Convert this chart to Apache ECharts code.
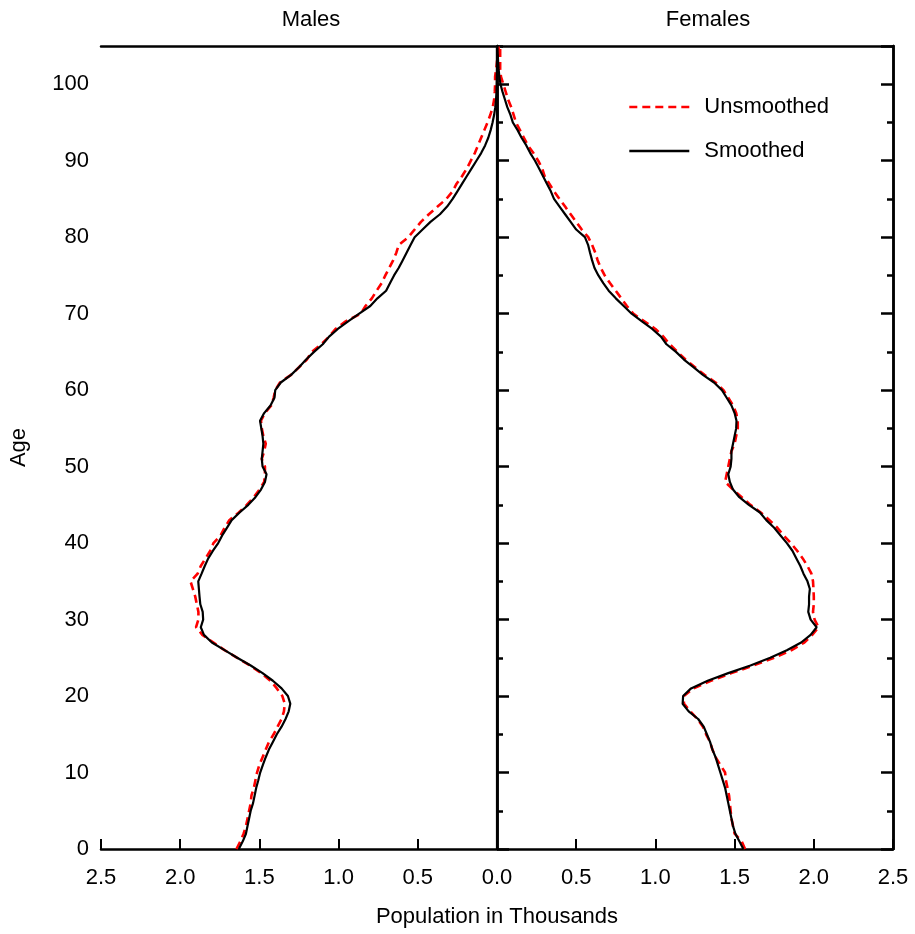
<!DOCTYPE html>
<html>
<head>
<meta charset="utf-8">
<script src="https://cdn.jsdelivr.net/npm/echarts@6/dist/echarts.min.js"></script>
<style>
html,body{margin:0;padding:0;background:#fff;}
#chart{width:915px;height:934px;}
</style>
</head>
<body>
<div id="chart"></div>
<script>
const ages = [0,1,2,3,4,5,6,7,8,9,10,11,12,13,14,15,16,17,18,19,20,21,22,23,24,25,26,27,28,29,
30,31,32,33,34,35,36,37,38,39,40,41,42,43,44,45,46,47,48,49,50,51,52,53,54,55,56,57,58,59,
60,61,62,63,64,65,66,67,68,69,70,71,72,73,74,75,76,77,78,79,80,81,82,83,84,85,86,87,88,89,
90,91,92,93,94,95,96,97,98,99,100,101,102,103,104,105];

const malesSmoothed = [1.63,1.605,1.585,1.575,1.565,1.555,1.54,1.53,1.52,1.507,
1.495,1.478,1.46,1.44,1.415,1.39,1.36,1.335,1.315,1.305,
1.32,1.36,1.415,1.48,1.555,1.64,1.72,1.80,1.85,1.87,
1.855,1.858,1.873,1.878,1.882,1.886,1.865,1.845,1.823,1.793,
1.76,1.735,1.705,1.675,1.625,1.57,1.525,1.49,1.465,1.455,
1.48,1.485,1.48,1.475,1.48,1.488,1.496,1.47,1.43,1.405,
1.40,1.365,1.30,1.25,1.205,1.155,1.10,1.06,1.005,0.94,
0.87,0.80,0.755,0.70,0.675,0.65,0.62,0.595,0.57,0.545,
0.52,0.47,0.42,0.36,0.315,0.28,0.25,0.22,0.19,0.16,
0.13,0.10,0.075,0.055,0.04,0.028,0.018,0.011,0.006,0.003,
0.002,0.001,0,0,0,0];

const malesUnsmoothed = [1.645,1.62,1.60,1.585,1.575,1.565,1.555,1.55,1.535,1.525,
1.515,1.50,1.48,1.46,1.44,1.41,1.385,1.36,1.345,1.34,
1.355,1.39,1.43,1.49,1.56,1.64,1.72,1.79,1.86,1.90,
1.885,1.885,1.895,1.905,1.92,1.935,1.89,1.87,1.84,1.81,
1.79,1.745,1.72,1.69,1.63,1.58,1.535,1.50,1.47,1.465,
1.465,1.485,1.47,1.46,1.475,1.485,1.49,1.465,1.425,1.41,
1.40,1.37,1.30,1.25,1.20,1.17,1.11,1.06,1.02,0.955,
0.86,0.83,0.79,0.76,0.728,0.705,0.68,0.655,0.635,0.62,
0.56,0.52,0.48,0.43,0.375,0.32,0.28,0.255,0.22,0.19,
0.165,0.14,0.12,0.10,0.08,0.06,0.042,0.027,0.018,0.014,
0.012,0.012,0.005,0,-0.01,-0.01];

const femalesSmoothed = [1.555,1.53,1.505,1.49,1.48,1.47,1.46,1.45,1.44,1.425,
1.41,1.395,1.38,1.36,1.345,1.325,1.305,1.27,1.21,1.172,
1.175,1.225,1.33,1.46,1.60,1.725,1.83,1.92,1.98,2.018,
1.98,1.965,1.97,1.97,1.975,1.96,1.935,1.915,1.89,1.865,
1.83,1.79,1.75,1.70,1.66,1.59,1.53,1.49,1.47,1.46,
1.475,1.48,1.48,1.49,1.50,1.51,1.512,1.50,1.48,1.45,
1.42,1.37,1.30,1.24,1.18,1.13,1.07,1.035,0.98,0.915,
0.85,0.80,0.75,0.705,0.671,0.64,0.615,0.60,0.587,0.575,
0.555,0.50,0.465,0.43,0.395,0.36,0.34,0.315,0.29,0.265,
0.24,0.21,0.185,0.155,0.13,0.10,0.085,0.065,0.05,0.035,
0.022,0.015,0.01,0.007,0.004,0.002];

const femalesUnsmoothed = [1.566,1.545,1.50,1.49,1.48,1.475,1.47,1.465,1.455,1.445,
1.44,1.41,1.38,1.36,1.345,1.32,1.30,1.265,1.22,1.18,
1.18,1.24,1.35,1.48,1.62,1.75,1.86,1.94,1.99,2.03,
2.005,1.995,2.00,2.00,1.998,1.995,1.985,1.96,1.93,1.895,
1.855,1.81,1.77,1.72,1.665,1.60,1.545,1.49,1.44,1.45,
1.46,1.47,1.48,1.50,1.51,1.52,1.52,1.51,1.49,1.46,
1.43,1.38,1.31,1.25,1.19,1.14,1.09,1.05,1.00,0.93,
0.86,0.82,0.785,0.75,0.713,0.68,0.655,0.635,0.62,0.60,
0.576,0.535,0.50,0.465,0.43,0.395,0.36,0.33,0.30,0.285,
0.26,0.23,0.195,0.17,0.145,0.12,0.105,0.09,0.07,0.055,
0.04,0.025,0.02,0.02,0.02,0.02];

const sideTitles = ['Males','Females'];
const legendNames = ['Unsmoothed','Smoothed'];

const FONT = '"Liberation Sans", Arial, Helvetica, sans-serif';
const FS = 22;
const chart = echarts.init(document.getElementById('chart'), null, {renderer:'canvas'});

const maleData = arr => arr.map((v,i)=>[-v, ages[i]]);
const femaleData = arr => arr.map((v,i)=>[v, ages[i]]);

function yAx(pos, interval, tickLen, labels, extra) {
  return Object.assign({
    type:'value', position:pos, min:0, max:105, interval:interval,
    axisLine:{show:true, lineStyle:{color:'#000', width:2.5}},
    axisTick:{show:true, inside:true, length:tickLen, lineStyle:{color:'#000', width:2.5}},
    axisLabel:{show:labels, color:'#000', fontSize:FS, fontFamily:FONT, margin:12, showMaxLabel:false},
    splitLine:{show:false}
  }, extra||{});
}

const option = {
  animation:false,
  backgroundColor:'#fff',
  grid:{left:101, right:22, top:46, bottom:85, containLabel:false},
  xAxis:[{
    type:'value', position:'bottom', min:-2.5, max:2.5, interval:0.5,
    name:'Population in Thousands', nameLocation:'middle', nameGap:57,
    nameTextStyle:{color:'#000', fontSize:FS, fontFamily:FONT},
    axisLine:{show:true, onZero:false, lineStyle:{color:'#000', width:2.5}},
    axisTick:{show:true, inside:true, length:10, lineStyle:{color:'#000', width:2}},
    axisLabel:{color:'#000', fontSize:FS, fontFamily:FONT, margin:18,
      formatter:v=>Math.abs(v).toFixed(1)},
    splitLine:{show:false}
  },{
    type:'value', position:'top', min:-2.5, max:2.5, interval:0.5,
    axisLine:{show:true, onZero:false, lineStyle:{color:'#000', width:2.5}},
    axisTick:{show:false}, axisLabel:{show:false}, splitLine:{show:false}
  }],
  yAxis:[
    yAx('left',10,12,true,{name:'Age', nameLocation:'middle', nameGap:71, nameRotate:90,
      nameTextStyle:{color:'#000', fontSize:FS, fontFamily:FONT}}),
    yAx('left',5,6,false),
    yAx('right',10,12,false),
    yAx('right',5,6,false)
  ],
  legend:{
    show:true, orient:'vertical', left:628, top:96, padding:0,
    itemWidth:60, itemHeight:20, itemGap:22,
    data:legendNames,
    itemStyle:{opacity:0},
    lineStyle:{width:2.6},
    textStyle:{color:'#000', fontSize:FS, fontFamily:FONT, padding:[0,0,0,10]}
  },
  graphic:[
    {type:'text', x:311, y:20, style:{text:sideTitles[0], fill:'#000', font:FS+'px '+FONT, textAlign:'center', textVerticalAlign:'middle'}},
    {type:'text', x:708, y:20, style:{text:sideTitles[1], fill:'#000', font:FS+'px '+FONT, textAlign:'center', textVerticalAlign:'middle'}}
  ],
  series:[
    {name:legendNames[0], type:'line', xAxisIndex:0, yAxisIndex:0, data:maleData(malesUnsmoothed),
      symbol:'none', lineStyle:{color:'#ff0000', width:2.6, type:[8,5]}, itemStyle:{color:'#ff0000'}, z:2},
    {name:legendNames[0], type:'line', xAxisIndex:0, yAxisIndex:0, data:femaleData(femalesUnsmoothed),
      symbol:'none', lineStyle:{color:'#ff0000', width:2.6, type:[8,5]}, itemStyle:{color:'#ff0000'}, z:2},
    {name:legendNames[1], type:'line', xAxisIndex:0, yAxisIndex:0, data:maleData(malesSmoothed),
      symbol:'none', lineStyle:{color:'#000', width:2.2}, itemStyle:{color:'#000'}, z:3},
    {name:legendNames[1], type:'line', xAxisIndex:0, yAxisIndex:0, data:femaleData(femalesSmoothed),
      symbol:'none', lineStyle:{color:'#000', width:2.2}, itemStyle:{color:'#000'}, z:3,
      markLine:{silent:true, symbol:['none','none'], label:{show:false},
        lineStyle:{color:'#000', width:2.2, type:'solid'}, data:[{xAxis:0}]}}
  ]
};
chart.setOption(option);
</script>
</body>
</html>
